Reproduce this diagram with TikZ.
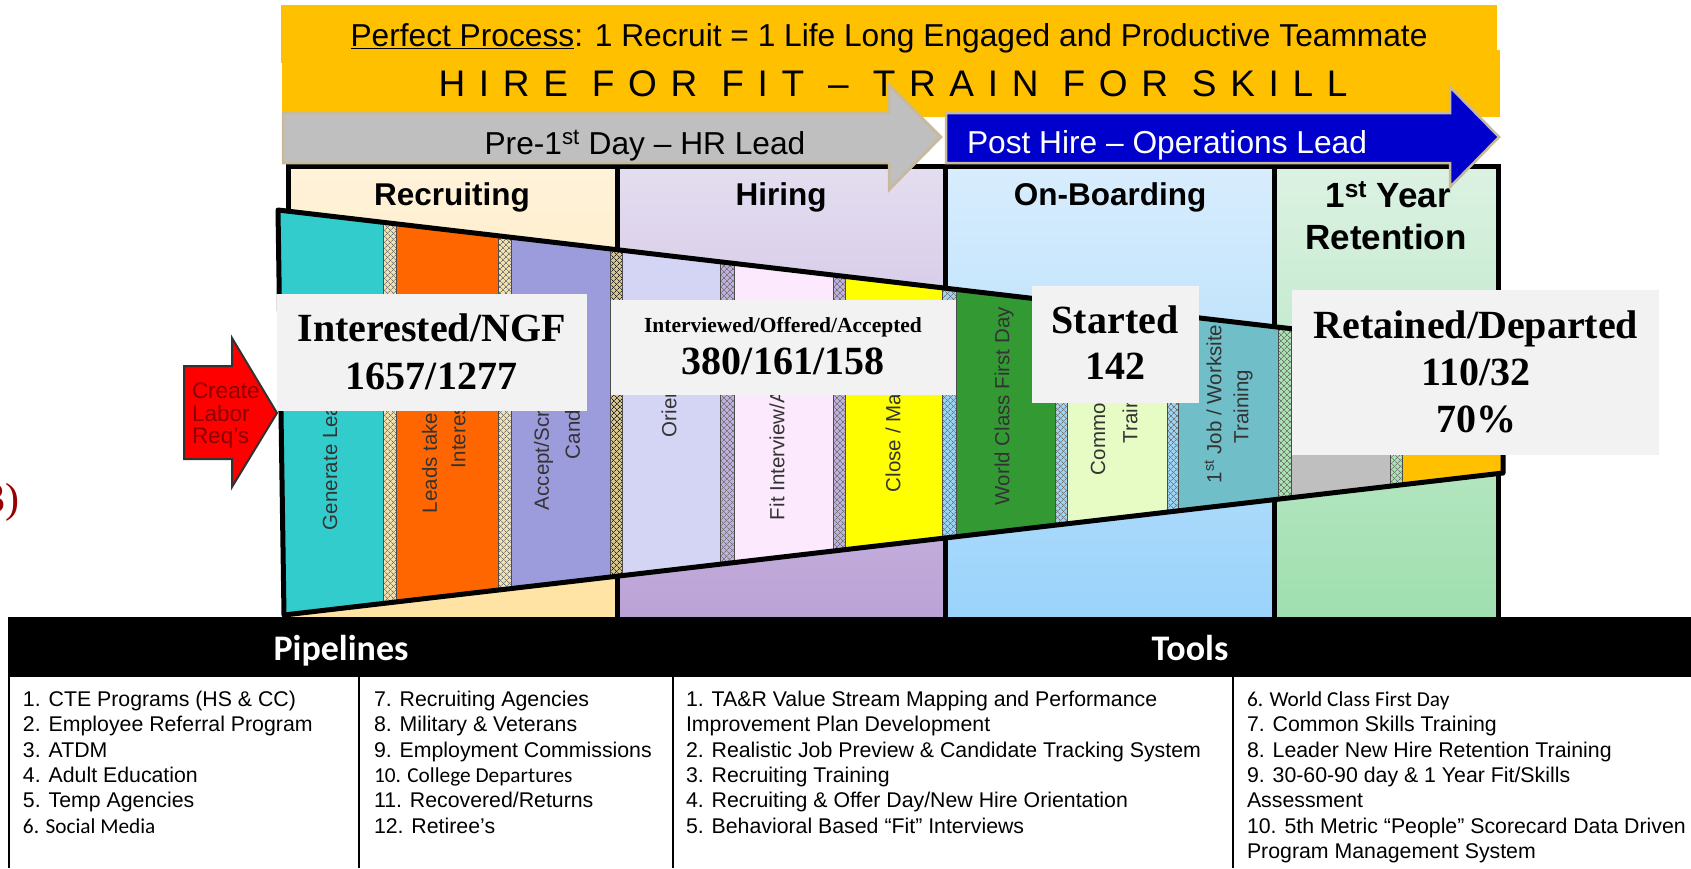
\documentclass[tikz,border=0pt]{standalone}
\usepackage{fontspec}
\setmainfont{Liberation Sans}
\newfontfamily\timesfont{Liberation Serif}
\newfontfamily\calfont{Carlito}
\usetikzlibrary{patterns.meta}
\newcommand\fsz[2]{\fontsize{#1}{#2}\selectfont}
\definecolor{banner}{HTML}{FFC000}
\definecolor{recT}{HTML}{FFF2D9}\definecolor{recB}{HTML}{FFE3A3}
\definecolor{hirT}{HTML}{E4DEF0}\definecolor{hirB}{HTML}{BBA2D6}
\definecolor{onbT}{HTML}{D8EDFD}\definecolor{onbB}{HTML}{9AD3FB}
\definecolor{yrT}{HTML}{DCF2E3}\definecolor{yrB}{HTML}{9FDFAE}
\definecolor{sA}{HTML}{33CCCC}\definecolor{sB}{HTML}{FF6600}
\definecolor{sC}{HTML}{9C9CDC}\definecolor{sD}{HTML}{D4D4F4}
\definecolor{sE}{HTML}{FDE9FD}\definecolor{sF}{HTML}{FFFF00}
\definecolor{sG}{HTML}{339933}\definecolor{sH}{HTML}{E6FCC4}
\definecolor{sI}{HTML}{70BEC8}\definecolor{sJ}{HTML}{BFBFBF}
\definecolor{sK}{HTML}{FFC000}
\definecolor{pTan}{HTML}{F2E2B0}\definecolor{pTanD}{HTML}{D8C890}
\definecolor{pLav}{HTML}{C0B0E0}\definecolor{pBlu}{HTML}{9CD4F4}
\definecolor{pGrn}{HTML}{A8E4B0}
\definecolor{boxgray}{HTML}{F2F2F2}
\definecolor{arrowgray}{HTML}{BFBFBF}
\definecolor{arrowblue}{HTML}{0000CC}
\definecolor{arrowedge}{HTML}{C8B99A}
\definecolor{darkred}{HTML}{8B0000}
\definecolor{numred}{HTML}{990000}
\tikzset{
  coltitle/.style={font=\fsz{31.5}{36}\bfseries, anchor=base},
  seglbl/.style={font=\fsz{20.5}{24}, text=black!80, rotate=90, anchor=west},
  statbox/.style={fill=boxgray, draw=none, anchor=north west},
  statbig/.style={font=\fsz{40}{44}\timesfont\bfseries, anchor=base},
  item/.style={font=\fsz{21.3}{25}, anchor=base west},
  citem/.style={font=\fsz{21.3}{25}\calfont, anchor=base west},
  hdr/.style={font=\fsz{36}{40}\calfont\bfseries, text=white, anchor=base},
  phase/.style={font=\fsz{31.7}{36}, anchor=base},
  sepline/.style={black!70, line width=1pt},
}
\begin{document}
\begin{tikzpicture}[x=1pt,y=-1pt, every node/.style={inner sep=0pt, outer sep=0pt}]
\useasboundingbox (0,0) rectangle (1691,868);
\fill[white] (0,0) rectangle (1691,868);

% ---------- banner
\fill[banner] (281,5) rectangle (1497,63);
\fill[banner] (282,50) rectangle (1500,117);
\node[phase] (pp) at (889,46.5) {\underline{Perfect Process}: 1 Recruit = 1 Life Long Engaged and Productive Teammate};
\node[font=\fsz{37}{40}\addfontfeature{LetterSpace=37}, anchor=base] (hire) at (893,96.5) {HIRE FOR FIT – TRAIN FOR SKILL};

% ---------- phase columns
\fill[top color=recT, bottom color=recB] (288,166) rectangle (617,617);
\fill[top color=hirT, bottom color=hirB] (617,166) rectangle (945.5,617);
\fill[top color=onbT, bottom color=onbB] (945.5,166) rectangle (1274,617);
\fill[top color=yrT, bottom color=yrB] (1274,166) rectangle (1498,617);
\draw[line width=5pt] (288,617) -- (288,166) -- (1498,166) -- (1498,617);
\draw[line width=5pt] (617,166) -- (617,617) (945.5,166) -- (945.5,617) (1274,166) -- (1274,617);
\node[coltitle] (tRec) at (452,205) {Recruiting};
\node[coltitle] (tHir) at (781,205) {Hiring};
\node[coltitle] (tOnb) at (1110,205) {On-Boarding};
\node[font=\fsz{35}{40}\bfseries, anchor=base] (tYr1) at (1388,207) {1\textsuperscript{st} Year};
\node[font=\fsz{35}{40}\bfseries, anchor=base] (tYr2) at (1386,249) {Retention};

% ---------- funnel
\coordinate (ftl) at (278,210);
\coordinate (ftr) at (1503,353.5);
\coordinate (fbr) at (1503,473);
\coordinate (fbl) at (284,615);
\begin{scope}
  \clip (ftl) -- (ftr) -- (fbr) -- (fbl) -- cycle;
  \foreach \a/\b/\c in {270/383/sA,396/498/sB,511/610/sC,622/720/sD,734/833/sE,845/942/sF,956/1055/sG,1067/1167/sH,1178/1278/sI,1291/1390/sJ,1402/1510/sK}
    {\fill[\c] (\a,200) rectangle (\b,630);}
  \foreach \a/\b/\c/\p in {383/396/pTan/55,498/511/pTan/55,610/622/pTanD/85,720/734/pLav/55,833/845/pLav/55,942/956/pBlu/55,1055/1067/pBlu/55,1167/1178/pBlu/55,1278/1291/pGrn/55,1390/1402/pGrn/55}
    {\fill[\c] (\a,200) rectangle (\b,630);
     \fill[pattern={Lines[angle=45,distance=4pt,line width=0.7pt]}, pattern color=black!\p] (\a,200) rectangle (\b,630);
     \fill[pattern={Lines[angle=-45,distance=4pt,line width=0.7pt]}, pattern color=black!\p] (\a,200) rectangle (\b,630);
     \draw[sepline] (\a,200) -- (\a,630) (\b,200) -- (\b,630);}
\end{scope}
\draw[line width=5pt, line join=round] (ftl) -- (ftr) -- (fbr) -- (fbl) -- cycle;

% segment labels
\node[seglbl] (l1) at (330,530) {Generate Lea};
\node[seglbl] (l2a) at (429.5,513) {Leads take I};
\node[seglbl] (l2b) at (458.5,468) {Interes};
\node[seglbl] (l3a) at (543.6,510) {Accept/Scre};
\node[seglbl] (l3b) at (572.6,459) {Candi};
\node[seglbl] (l4) at (669,437) {Orien};
\node[seglbl] (l5) at (777,520) {Fit Interview/As};
\node[seglbl] (l6) at (893,492) {Close / Ma};
\node[seglbl] (l7) at (1004,505) {World Class First Day};
\node[seglbl] (l8a) at (1098,475) {Commo};
\node[seglbl] (l8b) at (1130,443) {Train};
\node[seglbl] (l9a) at (1213,483) {1\textsuperscript{st} Job / Worksite};
\node[seglbl] (l9b) at (1243,443) {Training};

% ---------- stat boxes
\node[statbox, minimum width=310, minimum height=117] (bInt) at (277,294) {};
\node[statbig] (sInt1) at (431.5,341) {Interested/NGF};
\node[statbig] (sInt2) at (431.5,389.5) {1657/1277};
\node[statbox, minimum width=345, minimum height=95] (bIv) at (611,300) {};
\node[font=\fsz{21.5}{24}\timesfont\bfseries, anchor=base] (sIv1) at (783,332) {Interviewed/Offered/Accepted};
\node[statbig] (sIv2) at (783,374) {380/161/158};
\node[statbox, minimum width=167, minimum height=117] (bSt) at (1032,286) {};
\node[statbig] (sSt1) at (1115,333) {Started};
\node[statbig] (sSt2) at (1115,379.5) {142};
\node[statbox, minimum width=367, minimum height=165] (bRet) at (1292,290) {};
\node[statbig] (sRet1) at (1476,338) {Retained/Departed};
\node[statbig] (sRet2) at (1476,385.5) {110/32};
\node[statbig] (sRet3) at (1476,432) {70\%};

% ---------- red arrow
\draw[fill=red, draw=black!80, line width=2pt, line join=miter]
  (184,366) -- (232,366) -- (232,338) -- (277,413) -- (232,487) -- (232,459) -- (184,459) -- cycle;
\node[font=\fsz{22.5}{24}, text=darkred, anchor=base west] (cr1) at (192,398) {Create};
\node[font=\fsz{22.5}{24}, text=darkred, anchor=base west] (cr2) at (192,421) {Labor};
\node[font=\fsz{22.5}{24}, text=darkred, anchor=base west] (cr3) at (192,443.5) {Req’s};

% ---------- phase arrows
\draw[fill=arrowgray, draw=arrowedge, line width=2.5pt, line join=miter]
  (283,113) -- (889,113) -- (889,85) -- (941,137) -- (889,190) -- (889,163) -- (283,163) -- cycle;
\node[phase] (pre) at (645,154) {Pre-1\textsuperscript{st} Day – HR Lead};
\draw[fill=arrowblue, draw=arrowedge, line width=2.5pt, line join=miter]
  (946,113) -- (1450,113) -- (1450,87) -- (1499,137) -- (1450,187) -- (1450,163) -- (946,163) -- cycle;
\node[phase, text=white, anchor=base west] (post) at (967,153.5) {Post Hire – Operations Lead};

% ---------- table
\fill[black] (8,617) rectangle (1691,677);
\draw[line width=2pt] (9,617) -- (9,868);
\draw[line width=2pt] (359,677) -- (359,868) (673,677) -- (673,868) (1233,677) -- (1233,868);
\node[hdr] (hP) at (341,660) {Pipelines};
\node[hdr] (hT) at (1190,660) {Tools};

\node[item] (p1) at (23,706.5) {1. CTE Programs (HS \& CC)};
\node[item] (p2) at (23,731.8) {2. Employee Referral Program};
\node[item] (p3) at (23,757.1) {3. ATDM};
\node[item] (p4) at (23,782.4) {4. Adult Education};
\node[item] (p5) at (23,807.7) {5. Temp Agencies};
\node[citem] (p6) at (23,833) {6. Social Media};

\node[item] (p7) at (374,706.5) {7. Recruiting Agencies};
\node[item] (p8) at (374,731.8) {8. Military \& Veterans};
\node[item] (p9) at (374,757.1) {9. Employment Commissions};
\node[citem] (p10) at (374,782.4) {10. College Departures};
\node[item] (p11) at (374,807.7) {11. Recovered/Returns};
\node[item] (p12) at (374,833) {12. Retiree’s};

\node[item] (t1a) at (686,706.5) {1. TA\&R Value Stream Mapping and Performance};
\node[item] (t1b) at (686,731.8) {Improvement Plan Development};
\node[item] (t2) at (686,757.1) {2. Realistic Job Preview \& Candidate Tracking System};
\node[item] (t3) at (686,782.4) {3. Recruiting Training};
\node[item] (t4) at (686,807.7) {4. Recruiting \& Offer Day/New Hire Orientation};
\node[item] (t5) at (686,833) {5. Behavioral Based “Fit” Interviews};

\node[citem] (t6) at (1247,706.5) {6. World Class First Day};
\node[item] (t7) at (1247,731.8) {7. Common Skills Training};
\node[item] (t8) at (1247,757.1) {8. Leader New Hire Retention Training};
\node[item] (t9a) at (1247,782.4) {9. 30-60-90 day \& 1 Year Fit/Skills};
\node[item] (t9b) at (1247,807.7) {Assessment};
\node[item] (t10a) at (1247,833) {10. 5th Metric “People” Scorecard Data Driven};
\node[item] (t10b) at (1247,858.3) {Program Management System};

% ---------- stray label at left edge
\node[font=\fsz{42}{46}\timesfont, text=numred, anchor=base east] (three) at (19,512.6) {3)};
\end{tikzpicture}
\end{document}
